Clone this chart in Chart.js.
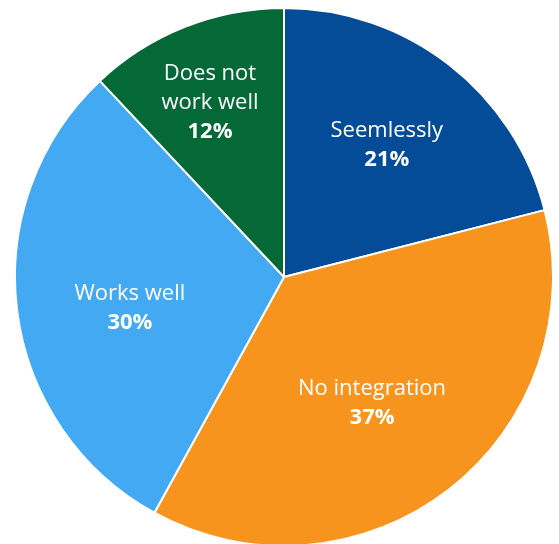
<!DOCTYPE html>
<html>
<head>
<meta charset="utf-8">
<script src="https://cdn.jsdelivr.net/npm/chart.js@4.4.1/dist/chart.umd.min.js"></script>
<style>
  html, body { margin: 0; padding: 0; background: #ffffff; overflow: hidden; width: 559px; height: 544px; }
  #wrap { position: absolute; left: 14px; top: 7px; width: 540px; height: 540px; }
</style>
</head>
<body>
<div id="wrap"><canvas id="chart"></canvas></div>
<script>
// Integration survey: share of responses per answer
const categories = ["Seemlessly", "No integration", "Works well", "Does not\nwork well"];
const shares = [21, 37, 30, 12];
const sliceColors = ["#044c97", "#f7941e", "#42a9f2", "#056937"];
// label block placement: fraction of radius, and a small turn (degrees) off the slice middle
const labelRadius = [0.628, 0.565, 0.583, 0.71];
const labelTurn = [-0.3, 2.4, -3.5, -1.2];

const FONT = '"Open Sans", "Liberation Sans", sans-serif';

const sliceLabels = {
  id: 'sliceLabels',
  afterDatasetsDraw(chart) {
    const ctx = chart.ctx;
    const meta = chart.getDatasetMeta(0);
    meta.data.forEach((arc, i) => {
      const p = arc.getProps(['x', 'y', 'startAngle', 'endAngle', 'outerRadius'], true);
      const mid = (p.startAngle + p.endAngle) / 2 + labelTurn[i] * Math.PI / 180;
      const r = p.outerRadius * labelRadius[i];
      const cx = p.x + Math.cos(mid) * r;
      const cy = p.y + Math.sin(mid) * r + 2;
      const lines = chart.data.labels[i].split('\n');
      const lh = 29;
      const total = lines.length + 1;
      let y = cy - (total - 1) * lh / 2;
      ctx.save();
      ctx.fillStyle = '#ffffff';
      ctx.textAlign = 'center';
      ctx.textBaseline = 'middle';
      ctx.font = '400 22px ' + FONT;
      lines.forEach(line => { ctx.fillText(line, cx, y); y += lh; });
      ctx.font = '700 22px ' + FONT;
      ctx.fillText(chart.data.datasets[0].data[i] + '%', cx, y);
      ctx.restore();
    });
  }
};

new Chart(document.getElementById('chart'), {
  type: 'pie',
  data: {
    labels: categories,
    datasets: [{
      data: shares,
      backgroundColor: sliceColors,
      borderColor: '#ffffff',
      borderWidth: 2
    }]
  },
  options: {
    responsive: true,
    maintainAspectRatio: false,
    animation: false,
    layout: { padding: 0 },
    plugins: {
      legend: { display: false },
      tooltip: { enabled: false }
    }
  },
  plugins: [sliceLabels]
});
</script>
</body>
</html>
